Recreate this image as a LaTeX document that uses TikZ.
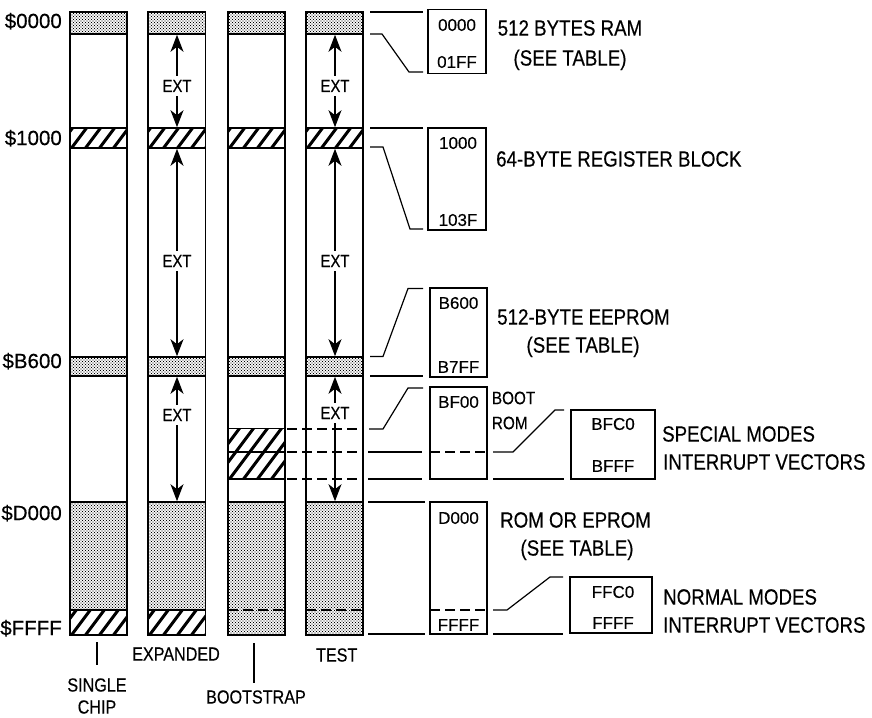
\documentclass[tikz,border=0pt]{standalone}
\usepackage{fontspec}
\setmainfont{Liberation Sans}
\newfontfamily\cf[FakeStretch=0.85, FakeBold=0.35]{Liberation Sans}
\newfontfamily\rf[FakeBold=0.35]{Liberation Sans}
\usetikzlibrary{arrows.meta,patterns}
\pgfdeclarepatternformonly{fdots}{\pgfqpoint{-1pt}{-1pt}}{\pgfqpoint{4pt}{4pt}}{\pgfqpoint{3pt}{3pt}}{%
  \pgfpathcircle{\pgfqpoint{0pt}{0pt}}{.7pt}%
  \pgfpathcircle{\pgfqpoint{1.5pt}{1.5pt}}{.7pt}%
  \pgfusepath{fill}}
\newcommand\hatchrect[4]{%
  \begin{scope}
    \clip (#1,#2) rectangle (#3,#4);
    \foreach \k in {-5,...,5}{\draw[line width=3pt] ({#1+\k*14},{#4+2}) -- ++(48,-64);}
  \end{scope}
  \draw[colline] (#1,#2) rectangle (#3,#4);}
\begin{document}
\begin{tikzpicture}[x=1pt,y=-1pt,
  colline/.style={line width=1.6pt},
  stip/.style={pattern=fdots, pattern color=black},
  lead/.style={line width=1.2pt},
  dashln/.style={line width=1.2pt, dash pattern=on 10pt off 5pt},
  arr/.style={line width=1.1pt, -{Stealth[length=17pt,width=13pt,inset=5pt]}},
  mbox/.style={draw, line width=1.3pt, inner sep=0pt},
  lbl/.style={font=\cf\fontsize{22}{26}\selectfont, inner sep=0pt, text height=15.1pt, text depth=0pt},
  addr/.style={font=\rf\fontsize{20.5}{24}\selectfont, inner sep=0pt, text height=14.1pt, text depth=0pt, anchor=east},
  boxt/.style={font=\rf\fontsize{17}{20}\selectfont, inner sep=0pt, text height=11.7pt, text depth=0pt},
  bootl/.style={font=\cf\fontsize{18}{21}\selectfont, inner sep=0pt, text height=12.4pt, text depth=0pt},
  extt/.style={font=\cf\fontsize{17.5}{20}\selectfont, inner xsep=0pt, inner ysep=4pt, text height=12pt, text depth=0pt},
  bot/.style={font=\cf\fontsize{19}{22}\selectfont, inner sep=0pt, text height=13.1pt, text depth=0pt}]
\useasboundingbox (0,0) rectangle (872,717);

% ---------- column 1 : single chip
\fill[stip] (70,12) rectangle (127,34);
\fill[stip] (70,357) rectangle (127,376);
\fill[stip] (70,502) rectangle (127,610);
\hatchrect{70}{128}{127}{148}
\hatchrect{70}{610}{127}{635}
\draw[colline] (70,12) rectangle (127,635);
\draw[colline] (70,34) -- (127,34) (70,357) -- (127,357) (70,376) -- (127,376) (70,502) -- (127,502);

% ---------- column 2 : expanded
\fill[stip] (148,12) rectangle (205.5,34);
\fill[stip] (148,357) rectangle (205.5,376);
\fill[stip] (148,502) rectangle (205.5,610);
\hatchrect{148}{128}{205.5}{148}
\hatchrect{148}{610}{205.5}{635}
\draw[colline] (148,12) rectangle (205.5,635);
\draw[colline] (148,34) -- (205.5,34) (148,357) -- (205.5,357) (148,376) -- (205.5,376) (148,502) -- (205.5,502);

% ---------- column 3 : bootstrap
\fill[stip] (228,12) rectangle (285,34);
\fill[stip] (228,357) rectangle (285,376);
\fill[stip] (228,502) rectangle (285,635);
\hatchrect{228}{128}{285}{148}
\hatchrect{228}{428.5}{285}{479}
\draw[lead] (228,452) -- (285,452);
\draw[colline] (228,12) rectangle (285,635);
\draw[colline] (228,34) -- (285,34) (228,357) -- (285,357) (228,376) -- (285,376) (228,502) -- (285,502);
\draw[dashln] (228,610) -- (285,610);

% ---------- column 4 : test
\fill[stip] (306,12) rectangle (363,34);
\fill[stip] (306,357) rectangle (363,376);
\fill[stip] (306,502) rectangle (363,635);
\hatchrect{306}{128}{363}{148}
\draw[colline] (306,12) rectangle (363,635);
\draw[colline] (306,34) -- (363,34) (306,357) -- (363,357) (306,376) -- (363,376) (306,502) -- (363,502);
\draw[dashln] (306,610) -- (363,610);
\draw[dashln] (287,429) -- (363,429);
\draw[dashln] (287,452) -- (363,452);
\draw[dashln] (287,479) -- (363,479);

% ---------- EXT arrows
\node[extt] (e21) at (177,86) {EXT};
\draw[arr] (e21.north) -- (177,34.8);
\draw[arr] (e21.south) -- (177,127.2);
\node[extt] (e22) at (177,261) {EXT};
\draw[arr] (e22.north) -- (177,148.8);
\draw[arr] (e22.south) -- (177,356.2);
\node[extt] (e23) at (177,415) {EXT};
\draw[arr] (e23.north) -- (177,376.8);
\draw[arr] (e23.south) -- (177,501.2);
\node[extt] (e41) at (335,86) {EXT};
\draw[arr] (e41.north) -- (335,34.8);
\draw[arr] (e41.south) -- (335,127.2);
\node[extt] (e42) at (335,261) {EXT};
\draw[arr] (e42.north) -- (335,148.8);
\draw[arr] (e42.south) -- (335,356.2);
\node[extt] (e43) at (335,413) {EXT};
\draw[arr] (e43.north) -- (335,376.8);
\draw[arr] (e43.south) -- (335,501.2);

% ---------- left address labels
\node[addr] (a0) at (62,21) {\$0000};
\node[addr] (a1) at (62,138) {\$1000};
\node[addr] (a2) at (62,361) {\$B600};
\node[addr] (a3) at (62,513) {\$D000};
\node[addr] (a4) at (62,628) {\$FFFF};

% ---------- bottom labels
\draw[line width=1.1pt] (97,642) -- (97,665);
\draw[line width=1.1pt] (254,643) -- (254,683);
\node[bot] (l1a) at (97,685) {SINGLE};
\node[bot] (l1b) at (97,707) {CHIP};
\node[bot] (l2) at (176,654) {EXPANDED};
\node[bot] (l3) at (256,697) {BOOTSTRAP};
\node[bot] (l4) at (336.7,655) {TEST};

% ---------- expanded boxes on the right
\node[mbox, minimum width=58pt, minimum height=64pt] (b1) at (457,41.3) {};
\node[mbox, minimum width=58pt, minimum height=102pt] (b2) at (457,179) {};
\node[mbox, minimum width=57pt, minimum height=89pt] (b3) at (458.5,332.5) {};
\node[mbox, minimum width=57pt, minimum height=92pt] (b4) at (458.5,433) {};
\node[mbox, minimum width=84pt, minimum height=69pt] (b5) at (613,444.5) {};
\node[mbox, minimum width=57pt, minimum height=132pt] (b6) at (458.5,568) {};
\node[mbox, minimum width=82pt, minimum height=56pt] (b7) at (611,605) {};
\draw[dashln] (430,452) -- (487,452);
\draw[dashln] (430,610) -- (487,610);

\node[boxt] (t1a) at (457,25) {0000};
\node[boxt] (t1b) at (457,62) {01FF};
\node[boxt] (t2a) at (458,143) {1000};
\node[boxt] (t2b) at (458,220) {103F};
\node[boxt] (t3a) at (458.5,303) {B600};
\node[boxt] (t3b) at (458.5,367) {B7FF};
\node[boxt] (t4a) at (458.5,402) {BF00};
\node[boxt] (t5a) at (613,424) {BFC0};
\node[boxt] (t5b) at (613,466) {BFFF};
\node[boxt] (t6a) at (458.5,518) {D000};
\node[boxt] (t6b) at (458.5,625) {FFFF};
\node[boxt] (t7a) at (613,592) {FFC0};
\node[boxt] (t7b) at (613,623) {FFFF};

% ---------- leader lines
\draw[lead] (370,12) -- (423,12);
\draw[lead] (370,34) -- (382,34) -- (409,72) -- (423,72);
\draw[lead] (370,128) -- (423,128);
\draw[lead] (370,147) -- (383,147) -- (410,229) -- (423,229);
\draw[lead] (370,356.5) -- (383,356.5) -- (408,288.5) -- (423,288.5);
\draw[lead] (370,376) -- (423,376);
\draw[lead] (369,429) -- (383,429) -- (408,388) -- (423,388);
\draw[lead] (368,452) -- (422,452);
\draw[lead] (368,479) -- (422,479);
\draw[lead] (493,452) -- (513,452) -- (555,410) -- (564,410);
\draw[lead] (493,479) -- (564,479);
\draw[lead] (368,502) -- (425,502);
\draw[lead] (368,634) -- (425,634);
\draw[lead] (493,610) -- (507,610) -- (550,577) -- (563,577);
\draw[lead] (493,634) -- (563,634);

% ---------- right descriptions
\node[lbl] (d1a) at (570,28) {512 BYTES RAM};
\node[lbl] (d1b) at (570,58) {(SEE TABLE)};
\node[lbl, anchor=west] (d2) at (496,159) {64-BYTE REGISTER BLOCK};
\node[lbl] (d3a) at (583.5,317) {512-BYTE EEPROM};
\node[lbl] (d3b) at (583,345) {(SEE TABLE)};
\node[bootl, anchor=west] (d4a) at (491.7,398) {BOOT};
\node[bootl, anchor=west] (d4b) at (491.7,423) {ROM};
\node[lbl, anchor=west] (d5a) at (662,434) {SPECIAL MODES};
\node[lbl, anchor=west] (d5b) at (663,462) {INTERRUPT VECTORS};
\node[lbl] (d6a) at (575.5,520) {ROM OR EPROM};
\node[lbl] (d6b) at (577,548) {(SEE TABLE)};
\node[lbl, anchor=west] (d7a) at (663,597) {NORMAL MODES};
\node[lbl, anchor=west] (d7b) at (663,625) {INTERRUPT VECTORS};
\end{tikzpicture}
\end{document}
